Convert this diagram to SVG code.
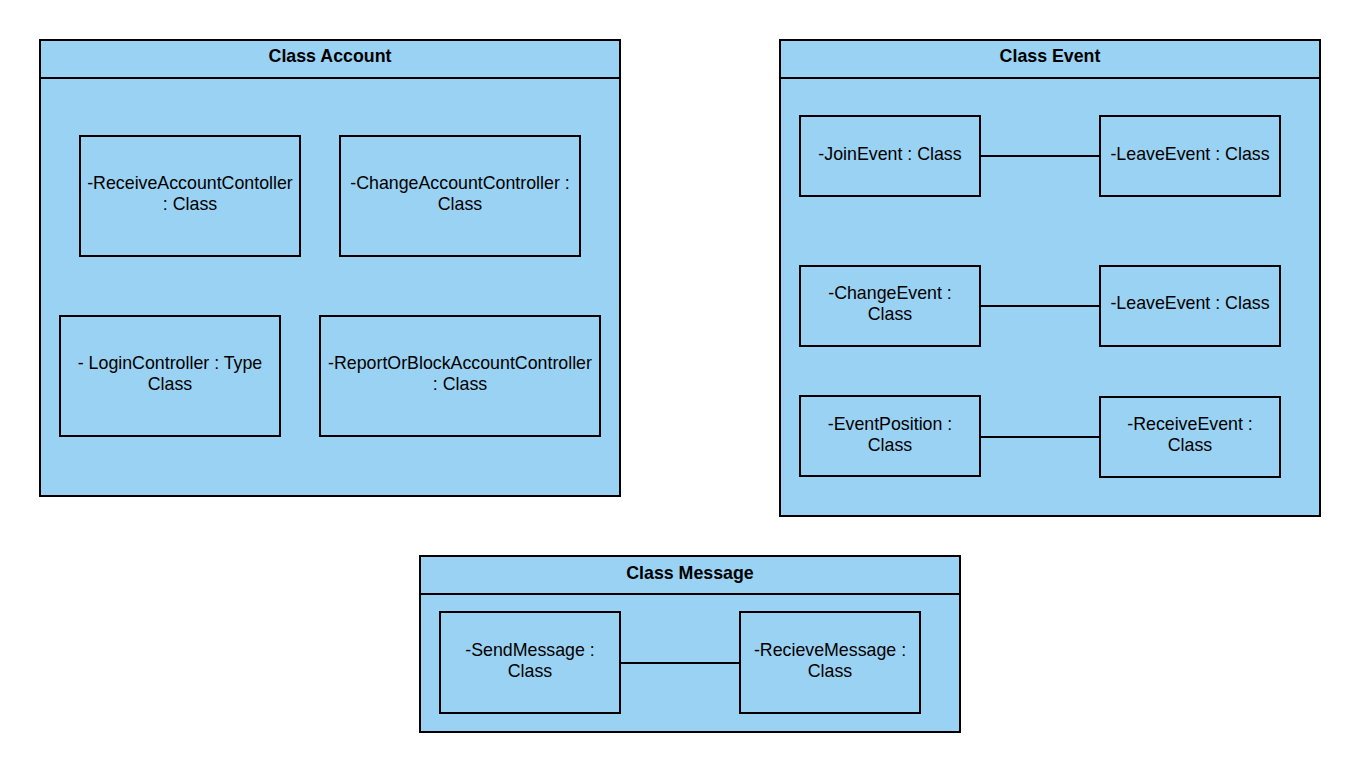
<svg xmlns="http://www.w3.org/2000/svg" width="1360" height="772" viewBox="0 0 1360 772">
  <style>
    .box { fill: #9AD2F3; stroke: #000; stroke-width: 2; }
    .sep { stroke: #000; stroke-width: 2; fill: none; }
    .title { font-family: "Liberation Sans", Arial, sans-serif; font-size: 17.8px; font-weight: bold; text-anchor: middle; fill: #000; }
    .label { font-family: "Liberation Sans", Arial, sans-serif; font-size: 17.8px; text-anchor: middle; fill: #000; }
    .link { stroke: #000; stroke-width: 2; fill: none; }
  </style>
  <rect width="1360" height="772" fill="#fff"/>

  <!-- Account package -->
  <g id="class-account">
    <rect class="box" x="40" y="40" width="580" height="456"/>
    <line class="sep" x1="40" y1="78" x2="620" y2="78"/>
    <text class="title" x="330" y="62">Class Account</text>
  </g>
  <g id="receive-account-controller">
    <rect class="box" x="80" y="136" width="220" height="120"/>
    <text class="label" x="190" y="189">-ReceiveAccountContoller</text>
    <text class="label" x="190" y="210">: Class</text>
  </g>
  <g id="change-account-controller">
    <rect class="box" x="340" y="136" width="240" height="120"/>
    <text class="label" x="460" y="189">-ChangeAccountController :</text>
    <text class="label" x="460" y="210">Class</text>
  </g>
  <g id="login-controller">
    <rect class="box" x="60" y="316" width="220" height="120"/>
    <text class="label" x="170" y="369">- LoginController : Type</text>
    <text class="label" x="170" y="390">Class</text>
  </g>
  <g id="report-block-controller">
    <rect class="box" x="320" y="316" width="280" height="120"/>
    <text class="label" x="460" y="369">-ReportOrBlockAccountController</text>
    <text class="label" x="460" y="390">: Class</text>
  </g>

  <!-- Event package -->
  <g id="class-event">
    <rect class="box" x="780" y="40" width="540" height="476"/>
    <line class="sep" x1="780" y1="78" x2="1320" y2="78"/>
    <text class="title" x="1050" y="62">Class Event</text>
  </g>
  <g id="join-event">
    <rect class="box" x="800" y="116" width="180" height="80"/>
    <text class="label" x="890" y="160">-JoinEvent : Class</text>
  </g>
  <g id="leave-event-1">
    <rect class="box" x="1100" y="116" width="180" height="80"/>
    <text class="label" x="1190" y="160">-LeaveEvent : Class</text>
  </g>
  <g id="change-event">
    <rect class="box" x="800" y="266" width="180" height="80"/>
    <text class="label" x="890" y="299">-ChangeEvent :</text>
    <text class="label" x="890" y="320">Class</text>
  </g>
  <g id="leave-event-2">
    <rect class="box" x="1100" y="266" width="180" height="80"/>
    <text class="label" x="1190" y="309">-LeaveEvent : Class</text>
  </g>
  <g id="event-position">
    <rect class="box" x="800" y="396" width="180" height="80"/>
    <text class="label" x="890" y="430">-EventPosition :</text>
    <text class="label" x="890" y="451">Class</text>
  </g>
  <g id="receive-event">
    <rect class="box" x="1100" y="397" width="180" height="80"/>
    <text class="label" x="1190" y="430">-ReceiveEvent :</text>
    <text class="label" x="1190" y="451">Class</text>
  </g>

  <!-- Message package -->
  <g id="class-message">
    <rect class="box" x="420" y="556" width="540" height="176"/>
    <line class="sep" x1="420" y1="594" x2="960" y2="594"/>
    <text class="title" x="690" y="579">Class Message</text>
  </g>
  <g id="send-message">
    <rect class="box" x="440" y="612" width="180" height="101"/>
    <text class="label" x="530" y="656">-SendMessage :</text>
    <text class="label" x="530" y="677">Class</text>
  </g>
  <g id="recieve-message">
    <rect class="box" x="740" y="612" width="180" height="101"/>
    <text class="label" x="830" y="656">-RecieveMessage :</text>
    <text class="label" x="830" y="677">Class</text>
  </g>

  <!-- Associations -->
  <g id="connectors">
    <line class="link" x1="980" y1="156" x2="1100" y2="156"/>
    <line class="link" x1="980" y1="306" x2="1100" y2="306"/>
    <line class="link" x1="980" y1="437" x2="1100" y2="437"/>
    <line class="link" x1="620" y1="663" x2="740" y2="663"/>
  </g>
</svg>
